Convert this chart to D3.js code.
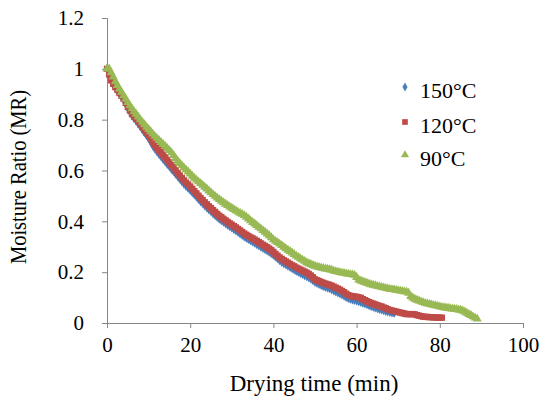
<!DOCTYPE html>
<html><head><meta charset="utf-8">
<script src="https://cdn.jsdelivr.net/npm/d3@7"></script>
<style>body{margin:0;background:#fff}svg{display:block}text{font-family:"Liberation Serif","Times New Roman",serif;fill:#000}</style>
</head><body>
<script>
// Sampling interval of the readings (min)
const STEP = 0.5;
const seriesNames = ["150°C", "120°C", "90°C"];
const xTicks = [0, 20, 40, 60, 80, 100];
const yTicks = [0, 0.2, 0.4, 0.6, 0.8, 1, 1.2];
const yTickLabels = ["0", "0.2", "0.4", "0.6", "0.8", "1", "1.2"];

const mr150 = [1.000,0.976,0.952,0.938,0.925,0.913,0.901,0.889,0.877,0.861,0.845,0.831,0.817,0.806,0.796,0.785,0.774,0.762,0.750,0.739,
0.728,0.713,0.698,0.686,0.675,0.665,0.655,0.645,0.635,0.625,0.616,0.606,0.597,0.587,0.577,0.567,0.557,0.548,0.539,0.531,
0.523,0.514,0.506,0.497,0.488,0.479,0.471,0.462,0.454,0.446,0.439,0.431,0.424,0.417,0.410,0.404,0.398,0.392,0.386,0.380,
0.375,0.369,0.364,0.358,0.352,0.346,0.340,0.335,0.330,0.325,0.320,0.315,0.310,0.305,0.300,0.295,0.290,0.285,0.280,0.274,
0.268,0.261,0.254,0.247,0.240,0.235,0.230,0.225,0.220,0.215,0.210,0.205,0.201,0.196,0.192,0.188,0.184,0.179,0.174,0.168,
0.161,0.157,0.153,0.149,0.145,0.142,0.139,0.136,0.132,0.128,0.124,0.120,0.116,0.112,0.107,0.102,0.098,0.095,0.092,0.090,
0.088,0.085,0.082,0.079,0.076,0.073,0.070,0.067,0.064,0.061,0.058,0.055,0.053,0.050,0.047,0.045,0.043,0.041,0.039];

const mr120 = [1.000,0.978,0.955,0.941,0.928,0.917,0.905,0.894,0.882,0.866,0.850,0.836,0.822,0.812,0.803,0.793,0.782,0.771,0.760,0.750,
0.740,0.726,0.712,0.701,0.690,0.681,0.672,0.662,0.652,0.642,0.632,0.622,0.612,0.601,0.590,0.580,0.570,0.561,0.552,0.545,
0.537,0.528,0.519,0.510,0.501,0.492,0.484,0.475,0.467,0.459,0.452,0.444,0.437,0.429,0.422,0.416,0.410,0.404,0.398,0.392,
0.387,0.381,0.376,0.370,0.364,0.358,0.352,0.347,0.342,0.337,0.333,0.328,0.323,0.318,0.313,0.308,0.303,0.298,0.293,0.287,
0.280,0.272,0.265,0.258,0.252,0.247,0.242,0.237,0.232,0.227,0.223,0.218,0.214,0.210,0.206,0.202,0.198,0.193,0.187,0.180,
0.172,0.168,0.165,0.161,0.158,0.155,0.152,0.150,0.147,0.143,0.139,0.135,0.131,0.126,0.121,0.115,0.110,0.107,0.105,0.104,
0.103,0.101,0.099,0.094,0.090,0.086,0.082,0.079,0.076,0.073,0.070,0.067,0.065,0.061,0.058,0.054,0.051,0.049,0.047,0.045,
0.043,0.041,0.039,0.037,0.035,0.035,0.035,0.035,0.034,0.031,0.029,0.027,0.025,0.024,0.024,0.023,0.023,0.022,0.022,0.021,
0.021,0.021];

const mr90 = [1.000,1.000,0.985,0.968,0.950,0.935,0.921,0.908,0.895,0.881,0.868,0.855,0.843,0.832,0.822,0.811,0.800,0.790,0.781,0.771,
0.762,0.753,0.744,0.735,0.727,0.719,0.711,0.703,0.695,0.687,0.679,0.670,0.660,0.648,0.637,0.628,0.620,0.611,0.603,0.595,
0.587,0.578,0.570,0.563,0.556,0.549,0.542,0.535,0.528,0.520,0.513,0.506,0.499,0.492,0.486,0.480,0.474,0.468,0.463,0.457,
0.452,0.447,0.442,0.437,0.432,0.428,0.423,0.417,0.410,0.403,0.396,0.390,0.384,0.377,0.371,0.364,0.358,0.351,0.344,0.336,
0.328,0.322,0.317,0.311,0.305,0.299,0.293,0.287,0.282,0.276,0.270,0.264,0.259,0.253,0.248,0.243,0.238,0.234,0.231,0.227,
0.224,0.221,0.219,0.217,0.215,0.213,0.212,0.210,0.208,0.205,0.203,0.201,0.199,0.197,0.196,0.194,0.193,0.191,0.190,0.188,
0.180,0.170,0.166,0.163,0.160,0.157,0.154,0.151,0.149,0.147,0.145,0.143,0.141,0.139,0.137,0.135,0.133,0.132,0.131,0.129,
0.128,0.126,0.125,0.123,0.122,0.118,0.105,0.099,0.094,0.090,0.087,0.084,0.081,0.078,0.076,0.074,0.072,0.070,0.068,0.066,
0.064,0.062,0.061,0.060,0.059,0.057,0.056,0.055,0.054,0.052,0.051,0.048,0.044,0.039,0.034,0.030,0.025,0.020,0.016];

const colors = ["#4a7ebb", "#be4b48", "#98b954"];
const symbols = [d3.symbolDiamond, d3.symbolSquare, d3.symbolTriangle];
const symSizes = [28, 40, 36];
const allSeries = [mr150, mr120, mr90];

const W = 541, H = 401;
const svg = d3.select("body").append("svg").attr("width", W).attr("height", H);
const x = d3.scaleLinear().domain([0, 100]).range([107, 523]);
const y = d3.scaleLinear().domain([0, 1.2]).range([323, 18]);
const axisColor = "#868686";

const xAxis = svg.append("g").attr("transform", `translate(0,${y(0)})`)
  .call(d3.axisBottom(x).tickValues(xTicks).tickSize(5).tickPadding(9).tickFormat(d3.format("d")));
const yAxis = svg.append("g").attr("transform", `translate(${x(0)},0)`)
  .call(d3.axisLeft(y).tickValues(yTicks).tickSize(5).tickPadding(18).tickFormat((d, i) => yTickLabels[i]));
[xAxis, yAxis].forEach(g => {
  g.select(".domain").attr("stroke", axisColor).attr("stroke-width", 1);
  g.selectAll(".tick line").attr("stroke", axisColor);
  g.selectAll(".tick text").style("font-size", "21px").attr("fill", "#000")
    .style("font-family", '"Liberation Serif","Times New Roman",serif');
});

allSeries.forEach((vals, si) => {
  svg.append("g").selectAll("path").data(vals).join("path")
    .attr("transform", (d, i) => `translate(${x(i * STEP)},${y(d)})`)
    .attr("d", d3.symbol().type(symbols[si]).size(symSizes[si]))
    .attr("fill", colors[si]);
});

// Axis titles
svg.append("text").attr("x", 314).attr("y", 391).attr("text-anchor", "middle")
  .style("font-size", "23px").text("Drying time (min)");
svg.append("text").attr("transform", `translate(26,177) rotate(-90) scale(1,1.1)`).attr("text-anchor", "middle")
  .style("font-size", "20.5px").text("Moisture Ratio (MR)");

// Legend
const legY = [87, 122, 155];
seriesNames.forEach((name, i) => {
  svg.append("path").attr("transform", `translate(405,${legY[i]})`)
    .attr("d", d3.symbol().type(symbols[i]).size(symSizes[i] * 0.8)).attr("fill", colors[i]);
  svg.append("text").attr("x", 420).attr("y", legY[i] + 11).style("font-size", "22px").text(name);
});
</script>
</body></html>
